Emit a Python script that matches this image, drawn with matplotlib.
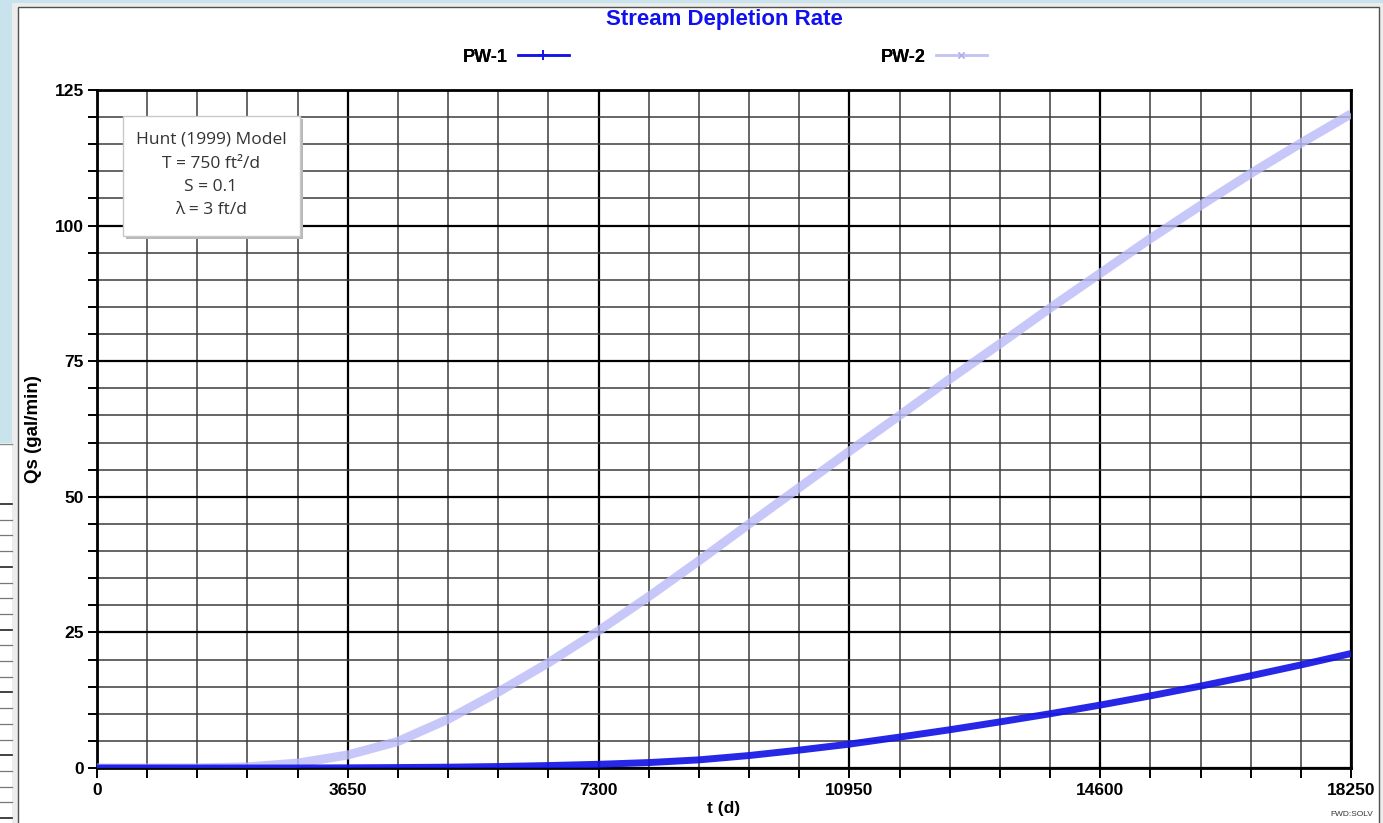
import matplotlib
matplotlib.use('Agg')
import matplotlib.pyplot as plt
from matplotlib.lines import Line2D
from matplotlib.patches import Rectangle
from matplotlib.ticker import MultipleLocator

# ---------------- data ----------------
t_days = [0, 730, 1460, 2190, 2920, 3650, 4380, 5110, 5840, 6570, 7300, 8030, 8760,
          9490, 10220, 10950, 11680, 12410, 13140, 13870, 14600, 15330, 16060,
          16790, 17520, 18250]
pw1 = [0, 0, 0, 0, 0, 0.03, 0.08, 0.15, 0.27, 0.45, 0.68, 1.0, 1.5,
       2.3, 3.3, 4.4, 5.7, 7.05, 8.5, 10.0, 11.6, 13.3, 15.1,
       17.0, 19.0, 21.1]
pw2 = [0, 0, 0.02, 0.2, 0.9, 2.4, 4.9, 9.0, 14.0, 19.4, 25.3, 31.6, 38.2,
       45.0, 51.7, 58.4, 65.0, 71.7, 78.2, 84.8, 91.2, 97.6, 103.7,
       109.6, 115.2, 120.6]
series_names = ['PW-1', 'PW-2']
x_ticks = [0, 3650, 7300, 10950, 14600, 18250]
y_ticks = [0, 25, 50, 75, 100, 125]
info_lines = ['Hunt (1999) Model', 'T = 750 ft\u00b2/d', 'S = 0.1', '\u03bb = 3 ft/d']

W, H = 1383, 823
BOLD = ['Liberation Sans', 'DejaVu Sans']

fig = plt.figure(figsize=(W / 100, H / 100), dpi=100, facecolor='#c8e3ec')


def prect(x0, y0, x1, y1, **kw):
    r = Rectangle((x0 / W, 1 - y1 / H), (x1 - x0) / W, (y1 - y0) / H,
                  transform=fig.transFigure, **kw)
    fig.add_artist(r)
    return r


def pline(x0, y0, x1, y1, **kw):
    fig.add_artist(Line2D([x0 / W, x1 / W], [1 - y0 / H, 1 - y1 / H],
                          transform=fig.transFigure, **kw))


# background window pieces
prect(0, 443, 12, 823, facecolor='white', edgecolor='none', zorder=0)
pline(0, 444, 12, 444, color='#8a8a8a', lw=1.0, zorder=0.1)
yy = 504
k = 0
while yy < 823:
    pline(0, yy, 12, yy, color='#222222' if k % 4 == 0 else '#777777',
          lw=1.2 if k % 4 == 0 else 0.9, zorder=0.1)
    yy += 15.7
    k += 1
prect(12, 3, 1383, 823, facecolor='#ececec', edgecolor='none', zorder=0)
prect(17.5, 6.5, 1378.5, 830, facecolor='white', edgecolor='#505050', lw=1.0, zorder=0.2)

# ---------------- axes ----------------
ax = fig.add_axes([97 / W, 1 - 768 / H, 1254 / W, 678 / H])
ax.set_zorder(1)
ax.set_facecolor('white')
ax.set_xlim(x_ticks[0], x_ticks[-1])
ax.set_ylim(y_ticks[0], y_ticks[-1])
ax.set_xticks(x_ticks)
ax.set_yticks(y_ticks)
ax.xaxis.set_minor_locator(MultipleLocator(730))
ax.yaxis.set_minor_locator(MultipleLocator(5))
ax.set_xticklabels([str(v) for v in x_ticks], fontfamily=BOLD, fontweight='bold', fontsize=12.5)
ax.set_yticklabels([str(v) for v in y_ticks], fontfamily=BOLD, fontweight='bold', fontsize=12.5)
ax.tick_params(axis='both', which='both', direction='out', color='black')
ax.tick_params(axis='x', which='both', length=7.5, width=1.4, pad=3)
ax.tick_params(axis='y', which='both', length=6.5, width=1.4, pad=3)
ax.grid(which='major', color='black', lw=1.6)
ax.grid(which='minor', color='#3c3c3c', lw=1.1)
for s in ax.spines.values():
    s.set_linewidth(2.0)
    s.set_color('black')

ax.plot(t_days, pw2, color='#babaf8', alpha=0.8, lw=6.5, solid_capstyle='butt', zorder=3)
ax.plot(t_days, pw1, color='#1414e6', alpha=0.92, lw=5.0, solid_capstyle='butt', zorder=3.1)

# legend (label first, then line sample)
h1 = Line2D([], [], color='#1414e6', lw=1.8, marker='+', markersize=7, markeredgewidth=1.2)
h2 = Line2D([], [], color='#c4c4f4', lw=1.8, marker='x', markersize=5, markeredgewidth=1.0,
            markeredgecolor='#b0b0e8')
for h, name, cx in [(h1, series_names[0], 515.5), (h2, series_names[1], 933.5)]:
    lg = fig.legend(handles=[h], labels=[name], loc='center', bbox_to_anchor=(cx / W, 1 - 57 / H),
                    markerfirst=False, frameon=False, handlelength=2.8, handletextpad=0.6,
                    borderpad=0, prop={'family': BOLD, 'weight': 'bold', 'size': 13})
    fig.add_artist(lg)

# title and axis labels
fig.text(724 / W, 1 - 20 / H, 'Stream Depletion Rate', ha='center', va='center',
         color='#1010f0', fontfamily=BOLD, fontweight='bold', fontsize=16)
fig.text(724 / W, 1 - 809 / H, 't (d)', ha='center', va='center',
         fontfamily=BOLD, fontweight='bold', fontsize=12.5)
fig.text(33 / W, 1 - 429 / H, 'Qs (gal/min)', ha='center', va='center', rotation=90,
         fontfamily=BOLD, fontweight='bold', fontsize=13.5)
fig.text(1352 / W, 1 - 815 / H, 'FWD:SOLV', ha='center', va='center', color='#333333',
         fontfamily=BOLD, fontsize=6)

# info box with shadow
prect(126, 119, 303, 239, facecolor='#b8b8b8', edgecolor='none', zorder=5)
prect(123, 116, 300, 236, facecolor='white', edgecolor='#c8c8c8', lw=1.0, zorder=5.1)
for i, line in enumerate(info_lines):
    fig.text(211 / W, 1 - (140 + 23.5 * i) / H, line, ha='center', va='center',
             color='#333333', fontfamily=['Open Sans', 'DejaVu Sans'], fontsize=12.5, zorder=6)

fig.savefig('out.png', dpi=100, facecolor=fig.get_facecolor())
